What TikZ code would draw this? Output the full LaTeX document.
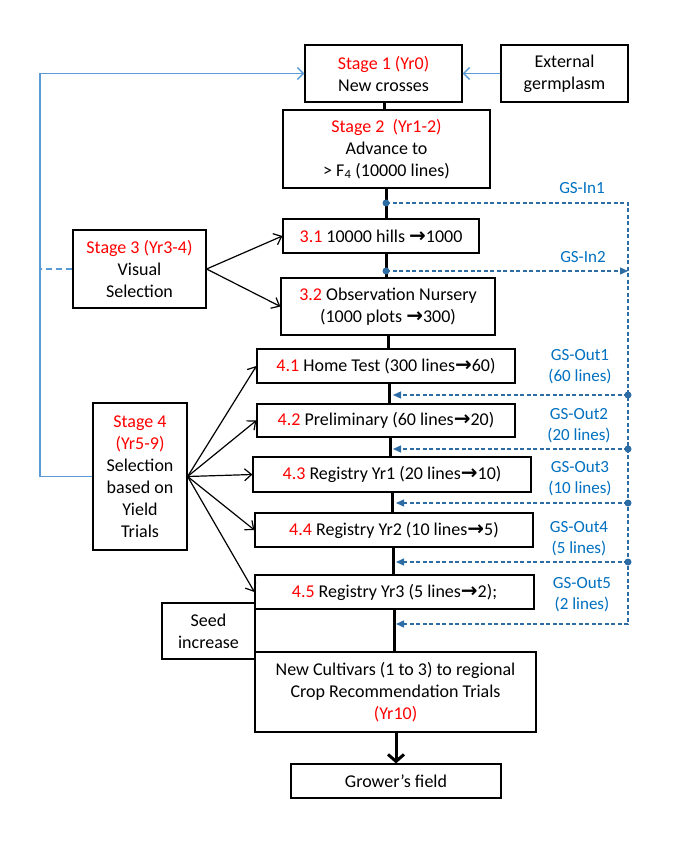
\documentclass[tikz,border=0pt]{standalone}
\usepackage{fontspec}
\setmainfont{Carlito}
\newfontfamily\arrowfont{DejaVu Sans}
\usetikzlibrary{arrows.meta}
\definecolor{stagered}{HTML}{FF0000}
\definecolor{gsblue}{HTML}{0070C0}
\definecolor{gsline}{HTML}{2E6DA4}
\definecolor{loopblue}{HTML}{5B9BD5}
\newcommand\toarr{{\arrowfont\bfseries\fontsize{20}{22}\selectfont →}}
\newcommand\stg[1]{\textcolor{stagered}{#1}}

\begin{document}
\begin{tikzpicture}[x=1pt,y=-1pt,font=\fontsize{18}{22}\selectfont,
  box/.style={draw,line width=1.2pt,align=center,inner sep=0pt},
  spine/.style={line width=3pt},
  sel/.style={line width=1.2pt,-{Straight Barb[length=7pt,width=12pt]}},
  loop/.style={loopblue,line width=1.4pt},
  gs/.style={gsline,line width=1.3pt,dash pattern=on 4pt off 2.5pt},
  gsarrow/.style={-{Triangle[length=8pt,width=7pt]}},
  gslabel/.style={gsblue,align=center,font=\fontsize{17}{21}\selectfont}]
\useasboundingbox (0,0) rectangle (698,843);

\node[box,minimum width=157,minimum height=57] (s1) at (383.5,73.5) {\stg{Stage 1 (Yr0)}\\New crosses};
\node[box,minimum width=127,minimum height=57] (ext) at (564.5,73.5) {External\\germplasm};
\node[box,minimum width=207,minimum height=78] (s2) at (386.5,149) {\stg{Stage 2\ \ (Yr1-2)}\\Advance to\\> F\textsubscript{4} (10000 lines)};
\node[box,minimum width=196,minimum height=34] (p31) at (381,236) {\stg{3.1} 10000 hills \toarr1000};
\node[box,minimum width=214,minimum height=57] (p32) at (388,306.5) {\stg{3.2} Observation Nursery\\(1000 plots \toarr300)};
\node[box,minimum width=133,minimum height=78] (s3) at (139.5,269) {\stg{Stage 3 (Yr3-4)}\\Visual\\Selection};
\node[box,minimum width=94,minimum height=147] (s4) at (140,476.5) {\stg{Stage 4}\\\stg{(Yr5-9)}\\Selection\\based on\\Yield\\Trials};
\node[box,minimum width=258,minimum height=34] (p41) at (386,366) {\stg{4.1} Home Test (300 lines\toarr60)};
\node[box,minimum width=258,minimum height=33] (p42) at (386,420.5) {\stg{4.2} Preliminary (60 lines\toarr20)};
\node[box,minimum width=278,minimum height=35] (p43) at (392,474.5) {\stg{4.3} Registry Yr1 (20 lines\toarr10)};
\node[box,minimum width=278,minimum height=34] (p44) at (394,530) {\stg{4.4} Registry Yr2 (10 lines\toarr5)};
\node[box,minimum width=279,minimum height=34] (p45) at (394.5,592) {\stg{4.5} Registry Yr3 (5 lines\toarr2);};
\node[box,minimum width=93,minimum height=56] (seed) at (208.5,631) {Seed\\increase};
\node[box,minimum width=281,minimum height=80] (cult) at (395.5,692) {New Cultivars (1 to 3) to regional\\Crop Recommendation Trials\\\stg{(Yr10)}};
\node[box,minimum width=210,minimum height=34] (grow) at (396,781) {Grower’s field};

\foreach \a/\b/\x in {s1/s2/384,s2/p31/386,p31/p32/386,p32/p41/388,p41/p42/389,p42/p43/390,p43/p44/392,p44/p45/393,p45/cult/394}{
  \coordinate (ax) at (\x,0);
  \draw[spine] (\a.south -| ax) -- (\b.north -| ax);
}
\coordinate (ax) at (396,0);
\draw[spine,-{Straight Barb[length=7pt,width=16pt]}] (cult.south -| ax) -- (grow.north -| ax);

\draw[sel] (s3.east) -- (p31.west);
\draw[sel] (s3.east) -- (p32.west);
\foreach \n in {p41,p42,p43,p44,p45}
  \draw[sel] (s4.east) -- (\n.west);

\coordinate (lt) at (40,73.5);
\coordinate (lb) at (40,476.5);
\draw[loop,-{Straight Barb[length=6pt,width=12pt]}] (s4.west) -- (lb) -- (lt) -- (s1.west);
\draw[loop,-{Straight Barb[length=6pt,width=12pt]}] (ext.west) -- (s1.east);
\draw[loop,dash pattern=on 6pt off 4pt] (s3.west) -- (s3.west -| lb);

\coordinate (in1) at (386,203);
\coordinate (in2) at (386,271);
\coordinate (gsTop) at (628,203);
\coordinate (gsBot) at (628,624);
\coordinate (tip5) at (396,624);
\draw[gs,gsarrow] (in1) -- (gsTop) -- (gsBot) -- (tip5);
\draw[gs,gsarrow] (in2) -- (in2 -| gsTop);
\fill[gsline] (in1) circle[radius=3.5pt] (in2) circle[radius=3.5pt];
\foreach \y/\x [count=\i] in {395/393,449/393,503/396,562/396}{
  \coordinate (out\i) at (628,\y);
  \coordinate (tip\i) at (\x,\y);
  \draw[gs,gsarrow] (out\i) -- (tip\i);
  \fill[gsline] (out\i) circle[radius=3.5pt];
}

\node[gslabel] (lin1) at (582,188) {GS-In1};
\node[gslabel] (lin2) at (583,257) {GS-In2};
\node[gslabel] (lout1) at (580,367) {GS-Out1\\(60 lines)};
\node[gslabel] (lout2) at (579,426) {GS-Out2\\(20 lines)};
\node[gslabel] (lout3) at (580,479) {GS-Out3\\(10 lines)};
\node[gslabel] (lout4) at (579,539) {GS-Out4\\(5 lines)};
\node[gslabel] (lout5) at (582,595) {GS-Out5\\(2 lines)};
\end{tikzpicture}
\end{document}
